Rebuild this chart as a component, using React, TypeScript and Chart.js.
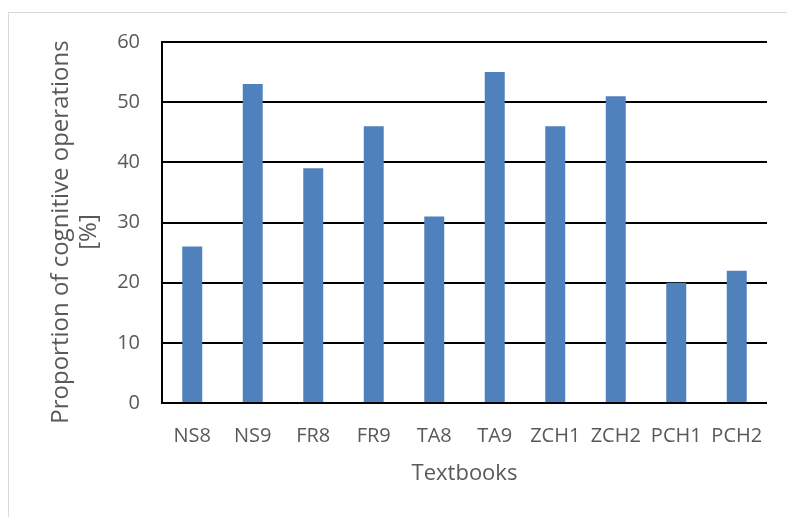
import React, { useEffect, useRef } from "react";
import { Chart, registerables } from "chart.js";

Chart.register(...registerables);

const categories = ["NS8", "NS9", "FR8", "FR9", "TA8", "TA9", "ZCH1", "ZCH2", "PCH1", "PCH2"];
const values = [26, 53, 39, 46, 31, 55, 46, 51, 20, 22];
const yTitle = ["Proportion of cognitive operations", "[%]"];
const xTitle = "Textbooks";

export default function App() {
  const ref = useRef<HTMLCanvasElement | null>(null);

  useEffect(() => {
    if (!ref.current) return;
    const font = "'Open Sans', sans-serif";
    const yTitlePlugin = {
      id: "yTitlePlugin",
      afterDraw(chart: any) {
        const ctx = chart.ctx;
        ctx.save();
        ctx.fillStyle = "#595959";
        ctx.font = `24px ${font}`;
        ctx.textAlign = "center";
        ctx.textBaseline = "middle";
        const cy = 232;
        const xs = [61, 89];
        yTitle.forEach((line, i) => {
          ctx.save();
          ctx.translate(xs[i], cy);
          ctx.rotate(-Math.PI / 2);
          ctx.fillText(line, 0, 0);
          ctx.restore();
        });
        ctx.restore();
      },
    };
    const chart = new Chart(ref.current, {
      type: "bar",
      data: {
        labels: categories,
        datasets: [
          {
            data: values,
            backgroundColor: "#4f81bd",
            categoryPercentage: 1,
            barPercentage: 0.33,
          },
        ],
      },
      options: {
        animation: false,
        responsive: false,
        maintainAspectRatio: false,
        layout: { padding: { left: 0, right: 20, top: 42, bottom: 0 } },
        plugins: { legend: { display: false }, tooltip: { enabled: false } },
        scales: {
          x: {
            grid: { display: false, drawTicks: false },
            border: { display: false },
            ticks: { color: "#595959", font: { family: font, size: 20 }, padding: 21, maxRotation: 0, autoSkip: false },
            title: {
              display: true,
              text: xTitle,
              color: "#595959",
              font: { family: font, size: 22 },
              padding: { top: 0, bottom: 30 },
            },
            afterFit: (s: any) => {
              s.height = 114;
            },
          },
          y: {
            min: 0,
            max: 60,
            ticks: { stepSize: 10, color: "#595959", font: { family: font, size: 20 }, padding: 22 },
            grid: { color: "#000000", lineWidth: 2, drawTicks: false },
            border: { display: true, color: "#000000", width: 2 },
            title: { display: false },
            afterFit: (s: any) => {
              s.width = 162;
            },
          },
        },
      },
      plugins: [yTitlePlugin],
    });
    return () => chart.destroy();
  }, []);

  return (
    <div style={{ position: "fixed", left: 0, top: 0, width: 787, height: 517, background: "#fff", overflow: "hidden" }}>
      <div
        style={{
          position: "absolute",
          left: 8,
          top: 12,
          width: 900,
          height: 700,
          border: "1px solid #d9d9d9",
        }}
      />
      <canvas ref={ref} width={787} height={517} style={{ position: "absolute", left: 0, top: 0, width: 787, height: 517 }} />
    </div>
  );
}
